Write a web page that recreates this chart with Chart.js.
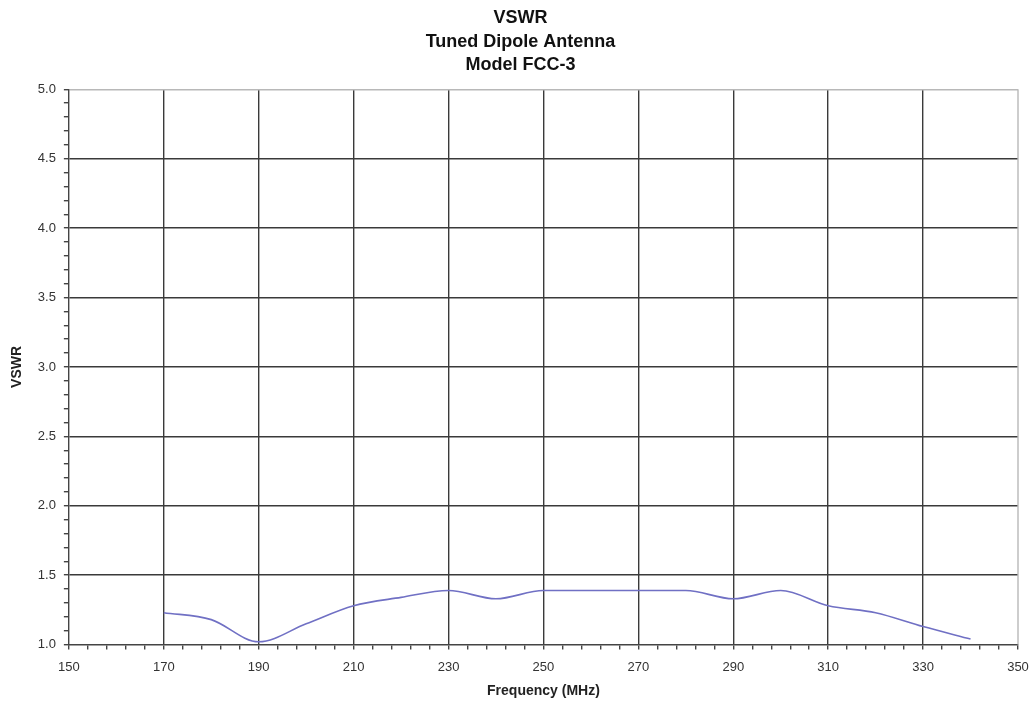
<!DOCTYPE html>
<html>
<head>
<meta charset="utf-8">
<script src="https://cdn.jsdelivr.net/npm/chart.js@4.4.1/dist/chart.umd.min.js"></script>
<style>
  html, body { margin: 0; padding: 0; background: #fff; }
  #wrap { width: 1032px; height: 702px; }
</style>
</head>
<body>
<div id="wrap"><canvas id="vswrChart"></canvas></div>
<script>
// data
const freqMHz = [170, 180, 190, 200, 210, 220, 230, 240, 250, 260, 270, 280, 290, 300, 310, 320, 330, 340];
const vswr = [1.23, 1.18, 1.02, 1.15, 1.28, 1.34, 1.39, 1.33, 1.39, 1.39, 1.39, 1.39, 1.33, 1.39, 1.28, 1.23, 1.13, 1.04];
const titleLines = ["VSWR", "Tuned Dipole Antenna", "Model FCC-3"];
const xTitle = "Frequency (MHz)";
const yTitle = "VSWR";

const points = freqMHz.map((f, i) => ({ x: f, y: vswr[i] }));
const font = "'Liberation Sans', Arial, sans-serif";

const ctx = document.getElementById('vswrChart').getContext('2d');
new Chart(ctx, {
    type: 'line',
    data: {
        datasets: [{
            label: 'VSWR',
            data: points,
            borderColor: '#7070c4',
            borderWidth: 1.6,
            pointRadius: 0,
            tension: 0.3,
            cubicInterpolationMode: 'monotone',
            fill: false
        }]
    },
    options: {
        responsive: true,
        maintainAspectRatio: false,
        animation: false,
        layout: { padding: { top: 4, right: 0, bottom: 2, left: 9 } },
        plugins: {
            legend: { display: false },
            tooltip: { enabled: false },
            title: {
                display: true,
                text: titleLines,
                color: '#111',
                font: { family: font, size: 18, weight: 'bold', lineHeight: 1.32 },
                padding: { top: 2, bottom: 12 }
            }
        },
        scales: {
            x: {
                type: 'linear',
                min: 150,
                max: 350,
                afterFit: s => { s.paddingRight = 14; },
                ticks: {
                    stepSize: 4,
                    autoSkip: false,
                    maxRotation: 0,
                    color: '#333',
                    font: { family: font, size: 13 },
                    padding: 10,
                    callback: v => ((v - 150) % 20 === 0 ? String(v) : '')
                },
                grid: {
                    color: c => ((c.tick.value - 150) % 20 === 0 && c.tick.value !== 150 && c.tick.value !== 350) ? '#3a3a3a' : 'rgba(0,0,0,0)',
                    tickColor: '#444',
                    tickLength: 5,
                    lineWidth: 1.4
                },
                border: { color: '#444', width: 1.4 },
                title: {
                    display: true,
                    text: xTitle,
                    color: '#222',
                    font: { family: font, size: 14, weight: 'bold' },
                    padding: { top: -2, bottom: 0 }
                }
            },
            y: {
                min: 1,
                max: 5,
                ticks: {
                    stepSize: 0.1,
                    autoSkip: false,
                    color: '#333',
                    font: { family: font, size: 13 },
                    padding: 8,
                    callback: v => (Math.round(v * 10) % 5 === 0 ? v.toFixed(1) : '')
                },
                grid: {
                    color: c => {
                        const t = Math.round(c.tick.value * 10);
                        if (t === 50) return '#b8b8b8';
                        return (t % 5 === 0 && t !== 10) ? '#3a3a3a' : 'rgba(0,0,0,0)';
                    },
                    tickColor: '#444',
                    tickLength: 5,
                    lineWidth: 1.4
                },
                border: { color: '#444', width: 1.4 },
                title: {
                    display: true,
                    text: yTitle,
                    color: '#222',
                    font: { family: font, size: 14, weight: 'bold' },
                    padding: { top: 0, bottom: 4 }
                }
            }
        }
    },
    plugins: [{
        id: 'rightEdge',
        afterDraw(chart) {
            const a = chart.chartArea;
            const c = chart.ctx;
            c.save();
            c.strokeStyle = '#b8b8b8';
            c.lineWidth = 1.4;
            c.beginPath();
            c.moveTo(a.right, a.top);
            c.lineTo(a.right, a.bottom);
            c.stroke();
            c.restore();
        }
    }]
});
</script>
</body>
</html>
